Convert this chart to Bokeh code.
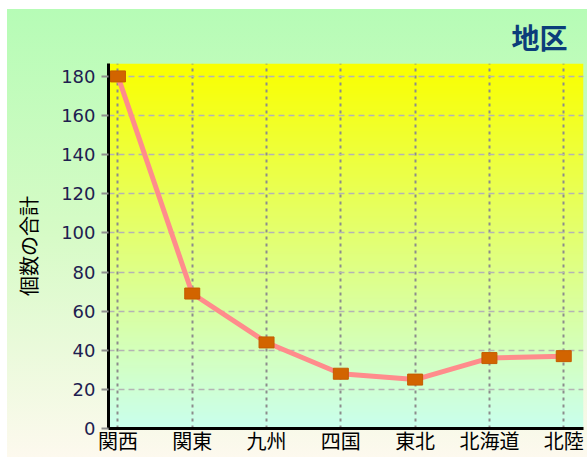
import numpy as np
from bokeh.plotting import figure
from bokeh.models import FixedTicker, Range1d
from bokeh.embed import file_html
from bokeh.resources import INLINE

# ---- data ----
regions = ["関西", "関東", "九州", "四国", "東北", "北海道", "北陸"]
counts = [180, 69, 44, 28, 25, 36, 37]
y_ticks = [0, 20, 40, 60, 80, 100, 120, 140, 160, 180]
title_text = "地区"
y_label = "個数の合計"

xs = list(range(len(regions)))
x0, x1 = -0.127, 6.266
ytop = 186.6

bg = ("linear-gradient(to bottom, #b6fcb6 0%, #d6fbc6 50%, #fdf9ee 100%) "
      "7px 9px / calc(100% - 7px) calc(100% - 9px) no-repeat, #ffffff")

p = figure(width=587, height=457, output_backend="svg", toolbar_location=None,
           x_range=Range1d(x0, x1), y_range=Range1d(0, ytop),
           min_border_left=108, min_border_top=63, min_border_right=4,
           min_border_bottom=25,
           border_fill_alpha=0, background_fill_alpha=0,
           outline_line_color=None,
           styles={"background": bg},
           title=title_text, title_location="above")

# plot-area gradient (yellow top -> pale cyan bottom)
n = 256
t = np.linspace(0, 1, n)  # 0 bottom, 1 top
bottom_c = np.array([202, 255, 238])
top_c = np.array([250, 255, 0])
cols = (bottom_c[None, :] * (1 - t[:, None]) + top_c[None, :] * t[:, None]).astype(np.uint8)
img = np.zeros((n, 1), dtype=np.uint32)
view = img.view(dtype=np.uint8).reshape((n, 1, 4))
view[:, 0, 0] = cols[:, 0]
view[:, 0, 1] = cols[:, 1]
view[:, 0, 2] = cols[:, 2]
view[:, 0, 3] = 255
p.image_rgba(image=[img], x=x0, y=0, dw=x1 - x0, dh=ytop, level="image")

# title
p.title.align = "right"
p.title.offset = 16
p.title.standoff = 14
p.title.text_font = "Noto Sans CJK JP"
p.title.text_font_size = "28px"
p.title.text_font_style = "bold"
p.title.text_color = "#0b3d7a"

# axes
p.xaxis.ticker = FixedTicker(ticks=xs)
p.xaxis.major_label_overrides = {i: r for i, r in enumerate(regions)}
p.xaxis.axis_line_width = 3
p.xaxis.axis_line_color = "black"
p.xaxis.major_tick_out = 0
p.xaxis.major_tick_in = 0
p.xaxis.minor_tick_line_color = None
p.xaxis.major_label_text_font = "Noto Sans CJK JP"
p.xaxis.major_label_text_font_size = "20px"
p.xaxis.major_label_text_color = "black"
p.xaxis.major_label_standoff = -3

p.yaxis.ticker = FixedTicker(ticks=y_ticks)
p.yaxis.axis_line_width = 3
p.yaxis.axis_line_color = "black"
p.yaxis.major_tick_out = 7
p.yaxis.major_tick_in = 0
p.yaxis.major_tick_line_color = "#909090"
p.yaxis.major_tick_line_width = 2
p.yaxis.minor_tick_line_color = None
p.yaxis.major_label_text_font = "DejaVu Sans"
p.yaxis.major_label_text_font_size = "18px"
p.yaxis.major_label_text_color = "#1e2050"
p.yaxis.major_label_standoff = 6
p.yaxis.axis_label = y_label
p.yaxis.axis_label_text_font = "Noto Sans CJK JP"
p.yaxis.axis_label_text_font_size = "20px"
p.yaxis.axis_label_text_font_style = "normal"
p.yaxis.axis_label_text_color = "black"
p.yaxis.axis_label_standoff = 15

# grids
p.xgrid.ticker = FixedTicker(ticks=xs)
p.xgrid.grid_line_color = "#8c8c8c"
p.xgrid.grid_line_width = 2
p.xgrid.grid_line_dash = "3 4"
p.ygrid.ticker = FixedTicker(ticks=y_ticks)
p.ygrid.grid_line_color = "#b4b4b4"
p.ygrid.grid_line_width = 1.5
p.ygrid.grid_line_dash = "6 4"

# series
p.line(xs, counts, line_color="#ff8c8c", line_width=5)
p.rect(xs, counts, width=15, height=11, width_units="screen", height_units="screen",
       fill_color="#d26400", line_color="#c45c00", line_width=1)

open("out.html", "w").write(file_html(p, INLINE))
